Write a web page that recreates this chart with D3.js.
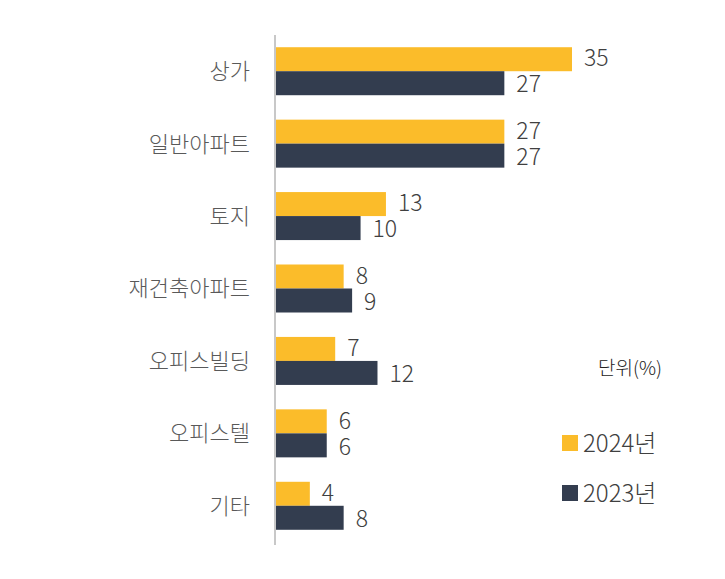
<!DOCTYPE html><html><head><meta charset="utf-8"><script src="https://cdn.jsdelivr.net/npm/d3@7"></script>
<style>body{margin:0;background:#fff}text{font-family:"Noto Sans CJK KR","Noto Sans",sans-serif;font-weight:300}</style></head><body>
<svg id="c" width="725" height="579"></svg>
<script>
const categories=["상가","일반아파트","토지","재건축아파트","오피스빌딩","오피스텔","기타"];
const values2024=[35,27,13,8,7,6,4];
const values2023=[27,27,10,9,12,6,8];
const seriesNames=["2024년","2023년"];
const colors=["#FBBC2A","#333D4F"];
const svg=d3.select("#c");
const x=d3.scaleLinear().domain([0,35]).range([276,572]);
const y=d3.scaleBand().domain(categories).range([35,542]);
const bh=24;
const series=[values2024,values2023];
series.forEach((vals,si)=>{
  const g=svg.append("g");
  categories.forEach((c,i)=>{
    const yc=y(c)+y.bandwidth()/2;
    const top=si===0?yc-bh:yc;
    g.append("rect").attr("x",x(0)).attr("y",top).attr("width",x(vals[i])-x(0)).attr("height",bh).attr("fill",colors[si]);
    g.append("text").attr("x",x(vals[i])+12).attr("y",top+bh/2+(si===0?-1:1)).attr("dy","0.36em").attr("font-size",23).attr("fill","#404040").text(vals[i]);
  });
});
svg.append("line").attr("x1",275).attr("x2",275).attr("y1",35).attr("y2",545).attr("stroke","#c8c8c8").attr("stroke-width",2);
categories.forEach(c=>{
  svg.append("text").attr("x",250).attr("y",y(c)+y.bandwidth()/2).attr("dy","0.36em").attr("text-anchor","end").attr("font-size",22).attr("fill","#595959").text(c);
});
svg.append("text").attr("x",598).attr("y",368).attr("dy","0.36em").attr("font-size",19).attr("font-weight",400).attr("fill","#222").text("단위(%)");
seriesNames.forEach((n,i)=>{
  const yy=443+i*50;
  svg.append("rect").attr("x",562).attr("y",yy-8).attr("width",16).attr("height",16).attr("fill",colors[i]);
  svg.append("text").attr("x",583).attr("y",yy).attr("dy","0.36em").attr("font-size",24).attr("fill","#404040").text(n);
});
</script></body></html>
